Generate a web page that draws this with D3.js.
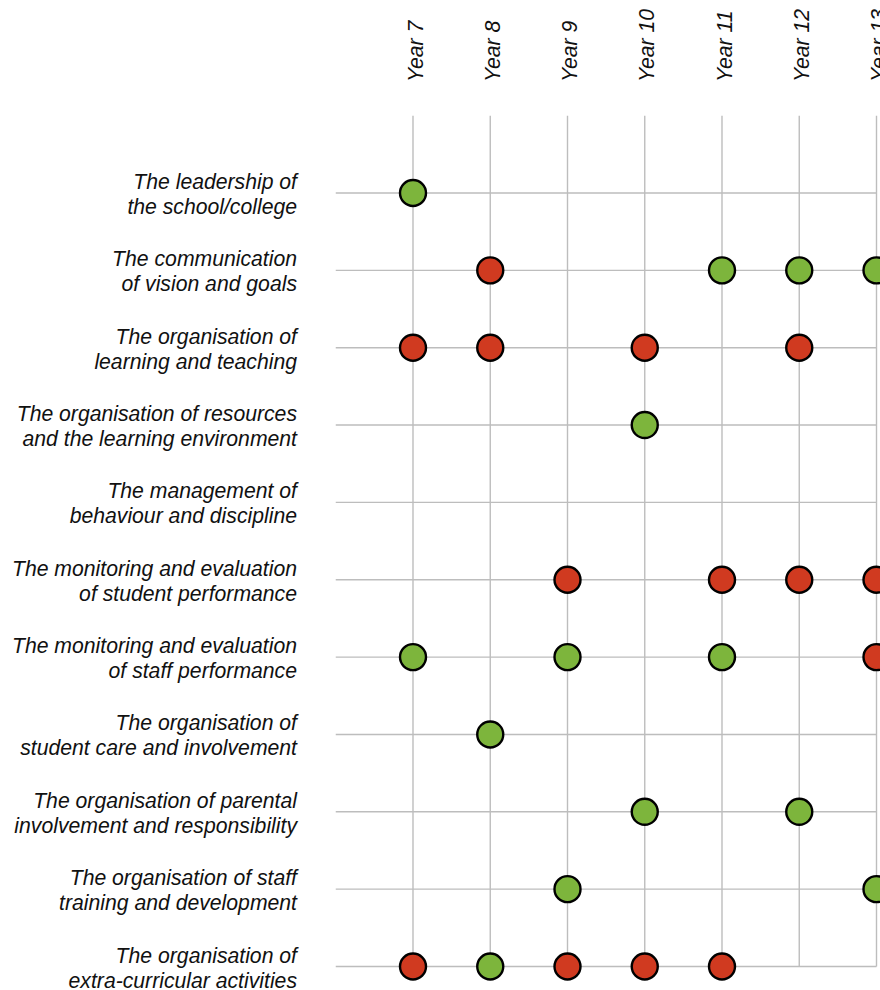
<!DOCTYPE html>
<html>
<head>
  <meta charset="utf-8">
  <title>Year group dot matrix</title>
  <script src="https://cdnjs.cloudflare.com/ajax/libs/d3/7.8.5/d3.min.js"></script>
  <style>
    body { margin: 0; background: #fff; }
    text { font-family: Arial, "Liberation Sans", sans-serif; font-style: italic; fill: #111; }
    .grid line { stroke: #bdbdbd; stroke-width: 1.4px; }
    .dot { stroke: #000; stroke-width: 2.4px; }
  </style>
</head>
<body>
  <div id="chart"></div>
  <script>
    // column headings
    var years = ["Year 7", "Year 8", "Year 9", "Year 10", "Year 11", "Year 12", "Year 13"];

    // row labels, two lines each
    var areas = [
      ["The leadership of", "the school/college"],
      ["The communication", "of vision and goals"],
      ["The organisation of", "learning and teaching"],
      ["The organisation of resources", "and the learning environment"],
      ["The management of", "behaviour and discipline"],
      ["The monitoring and evaluation", "of student performance"],
      ["The monitoring and evaluation", "of staff performance"],
      ["The organisation of", "student care and involvement"],
      ["The organisation of parental", "involvement and responsibility"],
      ["The organisation of staff", "training and development"],
      ["The organisation of", "extra-curricular activities"]
    ];

    // year groups marked green / red for each row (by row index)
    var greenMarks = [
      ["Year 7"],
      ["Year 11", "Year 12", "Year 13"],
      [],
      ["Year 10"],
      [],
      [],
      ["Year 7", "Year 9", "Year 11"],
      ["Year 8"],
      ["Year 10", "Year 12"],
      ["Year 9", "Year 13"],
      ["Year 8"]
    ];
    var redMarks = [
      [],
      ["Year 8"],
      ["Year 7", "Year 8", "Year 10", "Year 12"],
      [],
      [],
      ["Year 9", "Year 11", "Year 12", "Year 13"],
      ["Year 13"],
      [],
      [],
      [],
      ["Year 7", "Year 9", "Year 10", "Year 11"]
    ];

    var width = 880, height = 990,
      colGreen = "#7db53c",
      colRed = "#d03a20",
      dotRad = 13,
      fontSize = "21.2px";

    var rowKeys = areas.map(function (d, i) { return i; });

    var x = d3.scalePoint().domain(years).range([413, 876.5]);
    var y = d3.scalePoint().domain(rowKeys).range([193, 966.5]);

    var svg = d3.select("#chart").append("svg")
      .attr("width", width)
      .attr("height", height);

    // grid: lines run one step past the first row/column
    var grid = svg.append("g").attr("class", "grid");
    var yTop = y(0) - y.step(), yBot = y(rowKeys.length - 1);
    var xLeft = x(years[0]) - x.step(), xRight = x(years[years.length - 1]);

    grid.selectAll("line.v")
      .data(years)
      .enter().append("line")
      .attr("class", "v")
      .attr("x1", function (d) { return x(d); })
      .attr("x2", function (d) { return x(d); })
      .attr("y1", yTop)
      .attr("y2", yBot);

    grid.selectAll("line.h")
      .data(rowKeys)
      .enter().append("line")
      .attr("class", "h")
      .attr("x1", xLeft)
      .attr("x2", xRight)
      .attr("y1", function (d) { return y(d); })
      .attr("y2", function (d) { return y(d); });

    // column headings, reading upwards from y=82
    svg.append("g").selectAll("text")
      .data(years)
      .enter().append("text")
      .attr("transform", function (d) { return "translate(" + x(d) + ",82) rotate(-90)"; })
      .attr("text-anchor", "start")
      .attr("dy", "0.45em")
      .style("font-size", fontSize)
      .text(function (d) { return d; });

    // row labels
    var labels = svg.append("g").selectAll("text")
      .data(areas)
      .enter().append("text")
      .attr("text-anchor", "end")
      .attr("transform", function (d, i) { return "translate(297," + y(i) + ")"; })
      .style("font-size", fontSize);

    labels.append("tspan")
      .attr("x", 0)
      .attr("y", -4)
      .text(function (d) { return d[0]; });
    labels.append("tspan")
      .attr("x", 0)
      .attr("y", 21)
      .text(function (d) { return d[1]; });

    // dots
    var dots = [];
    rowKeys.forEach(function (r) {
      greenMarks[r].forEach(function (yr) { dots.push({ row: r, year: yr, color: colGreen }); });
      redMarks[r].forEach(function (yr) { dots.push({ row: r, year: yr, color: colRed }); });
    });

    svg.append("g").selectAll("circle")
      .data(dots)
      .enter().append("circle")
      .attr("class", "dot")
      .attr("cx", function (d) { return x(d.year); })
      .attr("cy", function (d) { return y(d.row); })
      .attr("r", dotRad)
      .attr("fill", function (d) { return d.color; });
  </script>
</body>
</html>
